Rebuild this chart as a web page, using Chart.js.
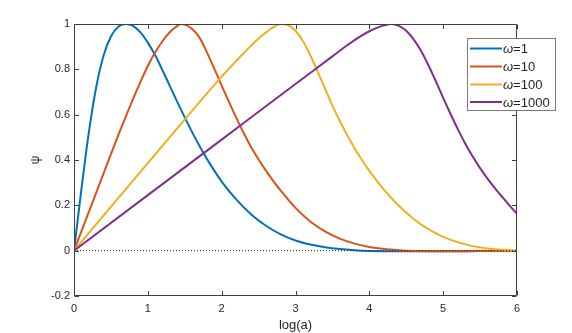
<!DOCTYPE html>
<html><head><meta charset="utf-8">
<script src="https://cdn.jsdelivr.net/npm/chart.js@4"></script>
<style>html,body{margin:0;padding:0;background:#fff;} canvas{display:block}</style>
</head><body>
<canvas id="c" width="572" height="333"></canvas>
<script>
// ---- data ----
const seriesLabels = ['1', '10', '100', '1000'];   // ω values
const seriesColors = ['#0072BD', '#D95319', '#EDB120', '#7E2F8E'];

const blueX = [0, 0.1, 0.2, 0.3, 0.4, 0.5, 0.6, 0.7, 0.8, 0.9, 1.0, 1.1, 1.2, 1.3, 1.4, 1.5, 1.6, 1.7, 1.8, 1.9, 2.0, 2.2, 2.4, 2.6, 2.8, 3.0, 3.2, 3.4, 3.6, 3.8, 4.0, 4.4, 5.0, 5.5, 6.0];
const blueY = [0, 0.27, 0.52, 0.72, 0.86, 0.945, 0.988, 1.0, 0.992, 0.963, 0.918, 0.862, 0.795, 0.725, 0.655, 0.588, 0.523, 0.462, 0.405, 0.353, 0.305, 0.225, 0.16, 0.11, 0.072, 0.045, 0.027, 0.015, 0.007, 0.002, -0.001, -0.003, -0.003, -0.002, -0.001];

const redX = [0, 0.2, 0.4, 0.6, 0.8, 0.9, 1.0, 1.1, 1.2, 1.3, 1.4, 1.45, 1.5, 1.6, 1.7, 1.8, 1.9, 2.0, 2.1, 2.2, 2.3, 2.4, 2.5, 2.6, 2.7, 2.8, 3.0, 3.2, 3.4, 3.6, 3.8, 4.0, 4.2, 4.4, 4.6, 5.0, 5.5, 6.0];
const redY = [0, 0.17, 0.34, 0.51, 0.67, 0.745, 0.815, 0.875, 0.925, 0.965, 0.992, 1.0, 0.997, 0.978, 0.94, 0.875, 0.803, 0.728, 0.655, 0.585, 0.518, 0.456, 0.402, 0.353, 0.307, 0.265, 0.189, 0.129, 0.085, 0.053, 0.031, 0.016, 0.007, 0.002, -0.001, -0.003, -0.002, -0.001];

const yellowX = [0, 1, 2, 2.1, 2.2, 2.3, 2.4, 2.5, 2.6, 2.7, 2.8, 2.9, 3.0, 3.1, 3.2, 3.3, 3.4, 3.5, 3.6, 3.7, 3.8, 3.9, 4.0, 4.2, 4.4, 4.6, 4.8, 5.0, 5.2, 5.4, 5.6, 5.8, 6.0];
const yellowY = [0, 0.386, 0.768, 0.803, 0.838, 0.872, 0.905, 0.936, 0.963, 0.986, 1.0, 0.995, 0.97, 0.925, 0.862, 0.79, 0.715, 0.64, 0.572, 0.51, 0.452, 0.4, 0.352, 0.268, 0.198, 0.14, 0.095, 0.061, 0.037, 0.02, 0.01, 0.004, 0.001];

const purpleX = [0, 1, 2, 3, 3.5, 3.6, 3.7, 3.8, 3.9, 4.0, 4.1, 4.2, 4.3, 4.4, 4.5, 4.6, 4.7, 4.8, 4.9, 5.0, 5.1, 5.2, 5.3, 5.4, 5.5, 5.6, 5.7, 5.8, 5.9, 6.0];
const purpleY = [0, 0.245, 0.49, 0.735, 0.857, 0.882, 0.906, 0.929, 0.95, 0.968, 0.983, 0.994, 1.0, 0.992, 0.97, 0.932, 0.882, 0.818, 0.748, 0.674, 0.603, 0.535, 0.472, 0.415, 0.364, 0.318, 0.276, 0.237, 0.199, 0.162];

const zeroX = [0, 6];
const zeroY = [0, 0];

const xTickValues = [0, 1, 2, 3, 4, 5, 6];
const xTickLabels = ['0', '1', '2', '3', '4', '5', '6'];
const yTickValues = [-0.2, 0, 0.2, 0.4, 0.6, 0.8, 1];
const yTickLabels = ['-0.2', '0', '0.2', '0.4', '0.6', '0.8', '1'];
const xTitle = 'log(a)';
const yTitle = 'ψ';

// ---- build ----
const pts = (xs, ys) => xs.map((x, i) => ({x: x, y: ys[i]}));
const seriesData = [pts(blueX, blueY), pts(redX, redY), pts(yellowX, yellowY), pts(purpleX, purpleY)];

const FONT = '"Liberation Sans", Arial, Helvetica, sans-serif';
Chart.defaults.font.family = FONT;
Chart.defaults.color = '#262626';

const datasets = [];
datasets.push({
  label: 'zero', data: pts(zeroX, zeroY), borderColor: '#262626', borderWidth: 1,
  borderDash: [1, 2], pointRadius: 0, fill: false, order: 0
});
for (let i = 3; i >= 0; i--) {
  datasets.push({
    label: 'ω=' + seriesLabels[i], data: seriesData[i], borderColor: seriesColors[i],
    borderWidth: 2, pointRadius: 0, fill: false, cubicInterpolationMode: 'monotone',
    order: 4 - i
  });
}

const framePlugin = {
  id: 'frame',
  afterDatasetsDraw(chart) {
    const {ctx, chartArea: a, scales: {x, y}} = chart;
    ctx.save();
    ctx.strokeStyle = '#404040';
    ctx.lineWidth = 1;
    const L = Math.round(a.left) + 0.5, R = Math.round(a.right) - 0.5;
    const T = Math.round(a.top) + 0.5, B = Math.round(a.bottom) - 0.5;
    ctx.beginPath();
    ctx.rect(L, T, R - L, B - T);
    ctx.stroke();
    const tl = 4.5;
    ctx.beginPath();
    xTickValues.forEach(v => {
      const px = Math.round(x.getPixelForValue(v)) + 0.5;
      ctx.moveTo(px, B); ctx.lineTo(px, B - tl);
      ctx.moveTo(px, T); ctx.lineTo(px, T + tl);
    });
    yTickValues.forEach(v => {
      const py = Math.round(y.getPixelForValue(v)) + 0.5;
      ctx.moveTo(L, py); ctx.lineTo(L + tl, py);
      ctx.moveTo(R, py); ctx.lineTo(R - tl, py);
    });
    ctx.stroke();

    ctx.fillStyle = '#262626';
    ctx.textAlign = 'center';
    ctx.textBaseline = 'middle';
    ctx.font = '13px ' + FONT;
    ctx.fillText(xTitle, (a.left + a.right) / 2, 325);
    ctx.save();
    ctx.translate(36, (a.top + a.bottom) / 2);
    ctx.rotate(-Math.PI / 2);
    ctx.font = '12px ' + FONT;
    ctx.fillText(yTitle, 0, 0);
    ctx.restore();

    const bx = 467.5, by = 38.5, bw = 88, bh = 72;
    ctx.fillStyle = '#ffffff';
    ctx.fillRect(bx, by, bw, bh);
    ctx.strokeStyle = '#7a7a7a';
    ctx.strokeRect(bx, by, bw, bh);
    const rowY = [48.5, 66.5, 84.5, 102];
    ctx.textAlign = 'left';
    for (let i = 0; i < 4; i++) {
      ctx.strokeStyle = seriesColors[i];
      ctx.lineWidth = 2;
      ctx.beginPath();
      ctx.moveTo(470, rowY[i]); ctx.lineTo(502, rowY[i]);
      ctx.stroke();
      ctx.fillStyle = '#262626';
      ctx.font = 'italic 13px ' + FONT;
      ctx.fillText('ω', 503, rowY[i] + 1);
      const w = ctx.measureText('ω').width;
      ctx.font = '13px ' + FONT;
      ctx.fillText('=' + seriesLabels[i], 503 + w, rowY[i] + 1);
    }
    ctx.restore();
  }
};

new Chart(document.getElementById('c'), {
  type: 'line',
  data: {datasets: datasets},
  options: {
    responsive: false,
    animation: false,
    devicePixelRatio: 1,
    layout: {padding: {left: 0, top: 24, right: 55, bottom: 0}},
    plugins: {legend: {display: false}, tooltip: {enabled: false}},
    scales: {
      x: {
        type: 'linear', min: 0, max: 6,
        afterBuildTicks: s => { s.ticks = xTickValues.map(v => ({value: v})); },
        afterFit: s => { s.height = 37; },
        grid: {display: false, drawTicks: false},
        border: {display: false},
        ticks: {padding: 6, font: {size: 11}, color: '#262626', maxRotation: 0,
          callback: (v, i) => xTickLabels[i]}
      },
      y: {
        type: 'linear', min: -0.2, max: 1,
        afterBuildTicks: s => { s.ticks = yTickValues.map(v => ({value: v})); },
        afterFit: s => { s.width = 74; },
        grid: {display: false, drawTicks: false},
        border: {display: false},
        ticks: {padding: 4, font: {size: 11}, color: '#262626',
          callback: (v, i) => yTickLabels[i]}
      }
    }
  },
  plugins: [framePlugin]
});
</script>
</body></html>
